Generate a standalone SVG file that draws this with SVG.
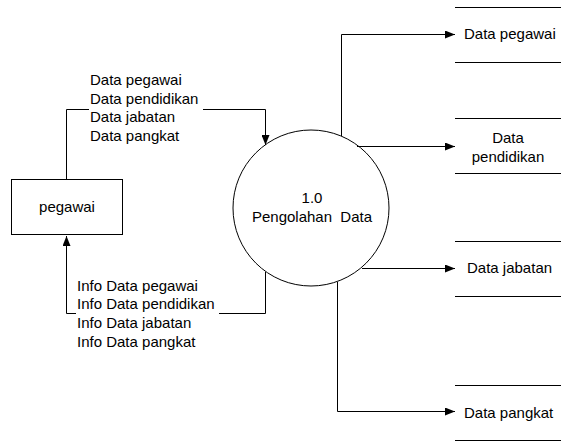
<svg xmlns="http://www.w3.org/2000/svg" width="561" height="441" viewBox="0 0 561 441">
<defs>
<style>
text{font-family:"Liberation Sans",Arial,sans-serif;font-size:15px;fill:#000}
.ln{fill:none;stroke:#000;stroke-width:1}
.st{stroke:#000;stroke-width:1}
.bg{fill:#fff;stroke:none}
</style>
<marker id="ah" markerWidth="10" markerHeight="8" refX="10" refY="4" orient="auto" markerUnits="userSpaceOnUse">
<path d="M0,0 L10,4 L0,8 Z" fill="#000"/>
</marker>
</defs>
<rect width="561" height="441" fill="#fff"/>
<g id="pegawai">
<rect x="11.5" y="179.5" width="111" height="55" fill="#fff" stroke="#000"/>
<text x="67" y="212" text-anchor="middle">pegawai</text>
</g>
<g id="proses">
<circle cx="311" cy="208" r="78" fill="#fff" stroke="#000"/>
<text x="312" y="203" text-anchor="middle">1.0</text>
<text x="312" y="222" text-anchor="middle" xml:space="preserve">Pengolahan  Data</text>
</g>
<g id="store-pegawai">
<line class="st" x1="455" y1="7.5" x2="561" y2="7.5"/>
<line class="st" x1="455" y1="62.5" x2="561" y2="62.5"/>
<text x="464" y="39">Data pegawai</text>
</g>
<g id="store-pendidikan">
<line class="st" x1="455" y1="118.5" x2="561" y2="118.5"/>
<line class="st" x1="455" y1="173.5" x2="561" y2="173.5"/>
<text x="508" y="143" text-anchor="middle">Data</text>
<text x="508" y="162" text-anchor="middle">pendidikan</text>
</g>
<g id="store-jabatan">
<line class="st" x1="455" y1="241.5" x2="561" y2="241.5"/>
<line class="st" x1="455" y1="296.5" x2="561" y2="296.5"/>
<text x="467" y="273">Data jabatan</text>
</g>
<g id="store-pangkat">
<line class="st" x1="455" y1="385.5" x2="561" y2="385.5"/>
<line class="st" x1="455" y1="440.5" x2="561" y2="440.5"/>
<text x="464" y="418">Data pangkat</text>
</g>
<g id="connectors">
<polyline class="ln" points="66.5,179 66.5,109.5 265.5,109.5 265.5,145" marker-end="url(#ah)"/>
<polyline class="ln" points="265.5,272 265.5,313.5 66.5,313.5 66.5,236" marker-end="url(#ah)"/>
<polyline class="ln" points="341.5,136 341.5,34.5 455,34.5" marker-end="url(#ah)"/>
<polyline class="ln" points="357,146.5 455,146.5" marker-end="url(#ah)"/>
<polyline class="ln" points="362,268.5 455,268.5" marker-end="url(#ah)"/>
<polyline class="ln" points="337.5,282 337.5,411.5 455,411.5" marker-end="url(#ah)"/>
</g>
<g id="labels">
<rect class="bg" x="89" y="93" width="114" height="18"/>
<rect class="bg" x="76" y="297" width="143" height="18"/>
<text x="90" y="85">Data pegawai</text>
<text x="90" y="104">Data pendidikan</text>
<text x="90" y="122">Data jabatan</text>
<text x="90" y="141">Data pangkat</text>
<text x="77" y="291">Info Data pegawai</text>
<text x="77" y="309">Info Data pendidikan</text>
<text x="77" y="328">Info Data jabatan</text>
<text x="77" y="347">Info Data pangkat</text>
</g>
</svg>
